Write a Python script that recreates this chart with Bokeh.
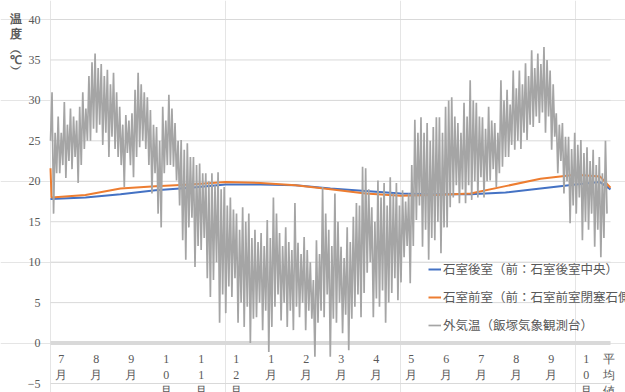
import numpy as np
from bokeh.plotting import figure
from bokeh.models import Range1d, LabelSet, ColumnDataSource
from bokeh.embed import file_html
from bokeh.resources import INLINE

FONT = "Noto Sans CJK JP"

# ---- data ----
month_labels = ["7月", "8月", "9月", "10月", "11月", "12月", "1月", "2月", "3月",
                "4月", "5月", "6月", "7月", "8月", "9月", "10月", "平均値"]
y_ticks = [-5, 0, 5, 10, 15, 20, 25, 30, 35, 40]
y_tick_labels = ["−5", "0", "5", "10", "15", "20", "25", "30", "35", "40"]

# month index (0 = start of July), last point = average
rear_x = [0, 1, 2, 3, 4, 5, 6, 7, 8, 9, 10, 11, 12, 13, 14, 15, 15.7, 16]
rear_t = [17.8, 18.0, 18.4, 18.9, 19.2, 19.6, 19.6, 19.5, 19.1, 18.8, 18.5, 18.4,
          18.4, 18.6, 19.1, 19.6, 19.9, 19.0]
front_x = [0, 0.03, 1, 2, 3, 4, 5, 6, 7, 8, 9, 10, 11, 12, 13, 14, 15, 15.7, 16]
front_t = [21.6, 18.0, 18.3, 19.1, 19.4, 19.6, 19.9, 19.8, 19.5, 19.0, 18.5, 18.2,
           18.3, 18.5, 19.4, 20.3, 20.8, 20.6, 19.2]

outside_t = [
    25, 31, 16, 26, 21, 28, 21, 26, 22, 29.8, 20.4, 27, 22.5, 29, 21.5, 28, 23,
    27.5, 19.8, 29.2, 22, 31, 24, 29, 25, 33, 25, 34.7, 26.5, 35.8, 26, 34, 27,
    34.5, 24.5, 33, 26, 33.8, 23, 32, 25.5, 33.4, 24, 31, 23, 29.2, 22, 27, 19.3,
    28.2, 23.5, 27.5, 22,
    28.4, 20.5, 31.3, 23, 33.4, 24.2, 32, 25, 31, 24, 30.4, 22, 28.8, 18.5, 27, 21,
    26.7, 16, 25, 14.3, 29.2, 21, 27.5, 22, 30.7, 22, 29, 21.8, 27.2, 20.1, 25, 17,
    25.1, 12.7, 23.9, 10.3, 24.7, 14.3, 23, 15.5, 23, 9.4, 22, 12, 22.2, 11.5, 21, 13,
    21, 8, 20, 5.7,
    21, 7.8, 19.5, 10, 21.1, 2.5, 19, 6, 19.3, 3.7, 17, 7, 18, 5.7, 16.5, 8,
    16, 2.5, 14, 5, 16.8, 2, 15, 4.5, 16, 0, 13, 3, 14, 3.2, 12.5, 5,
    13.6, 1.6, 12, 4, 15.2, -1.1, 13, 2, 18, 4.5, 16, 6, 13.6, 2.8, 12, 5,
    14.3, 2, 12.5, 4,
    11.5, 1.6, 17.3, 4.5, 12.4, 3.2, 11, 5, 13.1, 1.6, 11.5, 4, 10, 3, 7.8, -1.7,
    12.7, 2.5, 11, 4, 19.3, 3.2, 16, 6, 14, -1.7, 12, 3, 18.5, 2.5, 15, 5,
    11.9, 1.2, 10.5, 3.5, 14.3, -0.9, 12.5, 3, 15.6, 4.5, 17.3, 6, 17, 3.2, 21.8, 6.2,
    21.6, 8.7, 19, 10,
    16.8, 3.2, 15, 5.5, 20.1, 4.5, 18, 6.5, 19.8, 2.5, 17, 5, 20.5, 6.2, 18.5, 8,
    19.8, 5.3, 17, 7.5, 18.9, 10.6, 17.5, 12, 18.5, 7.4, 22, 12, 27.6, 15.2, 26, 17,
    27.9, 11.9, 26, 14, 27.2, 10.3, 25, 13, 26.7, 12.7, 27.9, 15, 27.9, 11.1, 26, 14.3,
    29.2, 14.3, 30, 16.8,
    30.4, 18, 28, 19.5, 27.2, 17.3, 26, 19, 29.7, 17.3, 28, 19.5, 32.5, 17.7, 30, 20,
    29.7, 18, 28, 20.5, 27.9, 18, 26.5, 20, 29.2, 20.1, 27.5, 21.5, 27.2, 19.3, 26, 21,
    32.5, 21.8, 30, 23, 31.3, 23, 29.5, 24.5, 33.7, 23.9, 31.5, 25, 33.7, 24, 32, 26,
    34.6, 25.1, 33, 27,
    36.2, 26.7, 34, 28, 35.8, 27.2, 34.5, 28.5, 36.6, 26, 35, 28, 33.7, 23.9, 32, 25.5,
    28.4, 21, 27, 22.5, 27.2, 18.5, 25.5, 20, 25.5, 14.8, 24, 17, 26, 16, 24.5, 18,
    25.1, 12.7, 23.5, 15, 24.2, 14, 22.5, 16, 23.9, 11.9, 22, 14, 23, 10.6, 21, 13,
    25, 16,
]
outside_end_month = 15.9
outside_x = np.linspace(0, outside_end_month, len(outside_t))

series_names = ["石室後室（前：石室後室中央）", "石室前室（前：石室前室閉塞石側）", "外気温（飯塚気象観測台）"]
axis_title_chars = ["温", "度", "︵", "℃", "︶"]

# ---- layout geometry (pixels) ----
W, H = 625, 392
PX_MONTH = 35.0
FRAME_L, FRAME_T, FRAME_B = 50, 19, 383
PPU = (FRAME_B - FRAME_T) / 45.0
x_lo = -FRAME_L / PX_MONTH
x_hi = (W - FRAME_L) / PX_MONTH
y_lo = -5 - (H - FRAME_B) / PPU
y_hi = 40 + FRAME_T / PPU


def py_to_y(py):
    """page pixel row -> temperature units (for text placement only)"""
    return 40 + (FRAME_T - py) / PPU


p = figure(width=W, height=H, output_backend="svg", toolbar_location=None,
           x_range=Range1d(x_lo, x_hi), y_range=Range1d(y_lo, y_hi),
           x_axis_location=None, y_axis_location=None, min_border=0)
p.outline_line_color = None
p.background_fill_color = "white"
p.border_fill_color = "white"

n_cat = 16
p.segment(x0=[0] * len(y_ticks), x1=[n_cat] * len(y_ticks), y0=y_ticks, y1=y_ticks,
          line_color="#D9D9D9", line_width=1)
p.segment(x0=[0], x1=[n_cat], y0=[0], y1=[0], line_color="#D9D9D9", line_width=4)

# y tick labels
tsrc = ColumnDataSource(dict(x=[0] * len(y_ticks), y=y_ticks, text=y_tick_labels))
p.add_layout(LabelSet(x="x", y="y", text="text", source=tsrc, x_offset=-10,
                      text_align="right", text_baseline="middle", text_font=FONT,
                      text_font_size="12px", text_color="#595959"))

p.line(rear_x, rear_t, line_color="#4472C4", line_width=2, legend_label=series_names[0])
p.line(front_x, front_t, line_color="#ED7D31", line_width=2, legend_label=series_names[1])
p.line(outside_x, outside_t, line_color="#A5A5A5", line_width=1.7, legend_label=series_names[2])

# month labels: characters stacked vertically below the zero line
row_py = [358, 374, 390]
lab_pos = [i + 0.31 for i in range(len(month_labels) - 1)] + [15.96]
cx, cy, ct = [], [], []
for pos, s in zip(lab_pos, month_labels):
    for r, ch in enumerate(s):
        cx.append(pos)
        cy.append(py_to_y(row_py[r]))
        ct.append(ch)
src = ColumnDataSource(dict(x=cx, y=cy, text=ct))
p.add_layout(LabelSet(x="x", y="y", text="text", source=src, text_align="center",
                      text_baseline="middle", text_font=FONT, text_font_size="12px",
                      text_color="#595959"))

# vertical axis title
title_py = [18, 33, 49, 59, 68]
asrc = ColumnDataSource(dict(x=[-1.0] * len(axis_title_chars),
                             y=[py_to_y(v) for v in title_py], text=axis_title_chars))
p.add_layout(LabelSet(x="x", y="y", text="text", source=asrc, text_align="center",
                      text_baseline="middle", text_font=FONT, text_font_size="12px",
                      text_font_style="bold", text_color="#595959"))

lg = p.legend[0]
lg.location = (428, H - 334)
lg.background_fill_alpha = 0
lg.border_line_color = None
lg.padding = 0
lg.margin = 0
lg.spacing = 9
lg.glyph_width = 13
lg.glyph_height = 14
lg.label_height = 14
lg.label_standoff = 2
lg.label_text_font = FONT
lg.label_text_font_size = "12.5px"
lg.label_text_color = "#595959"

open("out.html", "w").write(file_html(p, INLINE))
